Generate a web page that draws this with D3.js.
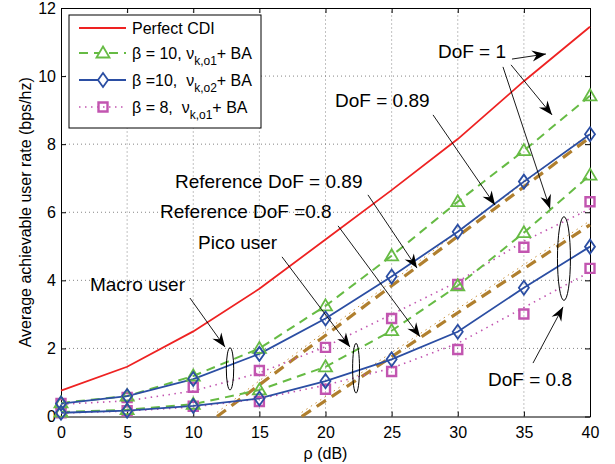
<!DOCTYPE html>
<html>
<head>
<meta charset="utf-8">
<title>Average achievable user rate</title>
<script src="https://cdn.jsdelivr.net/npm/d3@7"></script>
<style>
  body { margin: 0; background: #fff; }
  svg { display: block; font-family: "Liberation Sans", Arial, sans-serif; }
</style>
</head>
<body>
<div id="chart"></div>
<script>
// data
const rho = [0, 5, 10, 15, 20, 25, 30, 35, 40];
const xTicks = [0, 5, 10, 15, 20, 25, 30, 35, 40];
const yTicks = [0, 2, 4, 6, 8, 10, 12];

const perfectCDI = [0.76, 1.46, 2.5, 3.75, 5.2, 6.65, 8.15, 9.85, 11.45];

// macro user (upper group)
const macroB10o1 = [0.4, 0.6, 1.19, 2.0, 3.25, 4.72, 6.31, 7.81, 9.42];
const macroB10o2 = [0.38, 0.6, 1.1, 1.84, 2.88, 4.11, 5.43, 6.9, 8.29];
const macroB8Pts = [0.38, 0.56, 0.86, 1.35, 2.03, 2.88, 3.88, 4.97, 6.31];
const macroB8Line = [0.36, 0.46, 0.75, 1.28, 2.05, 3.0, 3.96, 5.15, 6.1];

// pico user (lower group)
const picoB10o1 = [0.13, 0.2, 0.36, 0.78, 1.46, 2.52, 3.84, 5.4, 7.09];
const picoB10o2 = [0.11, 0.17, 0.31, 0.53, 1.04, 1.68, 2.49, 3.78, 4.99];
const picoB8Pts = [0.11, 0.17, 0.3, 0.44, 0.8, 1.32, 1.97, 3.01, 4.35];
const picoB8Line = [0.1, 0.16, 0.28, 0.52, 0.92, 1.42, 2.15, 3.2, 4.25];

// reference DoF lines (end points)
const ref089X = [11.8, 40], ref089Y = [0, 8.2];
const ref08X = [18.2, 40], ref08Y = [0, 5.63];

const width = 615, height = 464;
const margin = {top: 8, right: 25, bottom: 47.5, left: 61};

const colRed = "#ee2222", colGreen = "#66bb44", colBlue = "#2b4ea3",
      colPink = "#c255b0", colBrown = "#b07f2e";

const svg = d3.select("#chart").append("svg")
  .attr("width", width).attr("height", height);
svg.append("rect").attr("width", width).attr("height", height).attr("fill", "#fff");

const x = d3.scaleLinear().domain([0, 40]).range([margin.left, width - margin.right]);
const y = d3.scaleLinear().domain([0, 12]).range([height - margin.bottom, margin.top]);

// grid
const grid = svg.append("g").attr("stroke", "#666").attr("stroke-width", 0.8)
  .attr("stroke-dasharray", "1,3");
grid.selectAll(".gx").data(xTicks.slice(1, -1)).join("line")
  .attr("x1", d => x(d)).attr("x2", d => x(d))
  .attr("y1", y(0)).attr("y2", y(12));
grid.selectAll(".gy").data(yTicks.slice(1, -1)).join("line")
  .attr("x1", x(0)).attr("x2", x(40))
  .attr("y1", d => y(d)).attr("y2", d => y(d));

// axes, ticks inward on four sides
svg.append("g").attr("transform", `translate(0,${y(0)})`)
  .call(d3.axisBottom(x).tickValues(xTicks).tickSize(-5).tickPadding(10).tickSizeOuter(0));
svg.append("g").attr("transform", `translate(0,${y(12)})`)
  .call(d3.axisTop(x).tickValues(xTicks).tickSize(-5).tickFormat("").tickSizeOuter(0));
svg.append("g").attr("transform", `translate(${x(0)},0)`)
  .call(d3.axisLeft(y).tickValues(yTicks).tickSize(-5).tickPadding(5).tickSizeOuter(0));
svg.append("g").attr("transform", `translate(${x(40)},0)`)
  .call(d3.axisRight(y).tickValues(yTicks).tickSize(-5).tickFormat("").tickSizeOuter(0));
svg.selectAll(".tick text").attr("font-size", 16).attr("fill", "#000")
  .attr("font-family", "Liberation Sans, Arial, sans-serif");
svg.selectAll(".domain").attr("stroke", "#000").attr("stroke-width", 1);
svg.selectAll(".tick line").attr("stroke", "#000");

svg.append("text").attr("x", (x(0) + x(40)) / 2).attr("y", 459)
  .attr("text-anchor", "middle").attr("font-size", 16).text("ρ (dB)");
svg.append("text")
  .attr("transform", `translate(31,${(y(0) + y(12)) / 2}) rotate(-90)`)
  .attr("text-anchor", "middle").attr("font-size", 16)
  .text("Average achievable user rate (bps/hz)");

const line = d3.line().x(d => x(d[0])).y(d => y(d[1]));
const pairs = (xs, ys) => xs.map((v, i) => [v, ys[i]]);

function drawLine(xs, ys, color, w, dash) {
  svg.append("path").datum(pairs(xs, ys))
    .attr("d", line).attr("fill", "none")
    .attr("stroke", color).attr("stroke-width", w)
    .attr("stroke-dasharray", dash || null);
}

// reference lines (thin dotted + thick dashed)
drawLine(ref089X, ref089Y.map(v => v + 0.12), "#c8913c", 1, "1.5,4");
drawLine(ref08X, ref08Y.map(v => v + 0.12), "#c8913c", 1, "1.5,4");
drawLine(ref089X, ref089Y, colBrown, 3.2, "11,7");
drawLine(ref08X, ref08Y, colBrown, 3.2, "11,7");

drawLine(rho, macroB8Line, colPink, 1.6, "1.5,4.5");
drawLine(rho, picoB8Line, colPink, 1.6, "1.5,4.5");
drawLine(rho, macroB10o1, colGreen, 2, "9,6");
drawLine(rho, picoB10o1, colGreen, 2, "9,6");
drawLine(rho, macroB10o2, colBlue, 1.8);
drawLine(rho, picoB10o2, colBlue, 1.8);
drawLine(rho, perfectCDI, colRed, 1.8);

// markers
const shapes = {
  tri: "M0,-6.5L6.5,4.5L-6.5,4.5Z",
  dia: "M0,-7L5,0L0,7L-5,0Z",
  sq: "M-4.5,-4.5H4.5V4.5H-4.5Z"
};
function drawMarkers(ys, shape, color, w) {
  svg.append("g").selectAll("path").data(pairs(rho, ys)).join("path")
    .attr("transform", d => `translate(${x(d[0])},${y(d[1])})`)
    .attr("d", shapes[shape]).attr("fill", "none")
    .attr("stroke", color).attr("stroke-width", w);
}
drawMarkers(macroB8Pts, "sq", colPink, 2.4);
drawMarkers(picoB8Pts, "sq", colPink, 2.4);
drawMarkers(macroB10o1, "tri", colGreen, 1.8);
drawMarkers(picoB10o1, "tri", colGreen, 1.8);
drawMarkers(macroB10o2, "dia", colBlue, 1.8);
drawMarkers(picoB10o2, "dia", colBlue, 1.8);

// annotations (data units)
const labels = [
  {t: "DoF = 1", x: 28.5, y: 10.53},
  {t: "DoF = 0.89", x: 20.72, y: 9.09},
  {t: "Reference DoF = 0.89", x: 8.62, y: 6.71},
  {t: "Reference DoF =0.8", x: 7.49, y: 5.83},
  {t: "Pico user", x: 10.36, y: 4.92},
  {t: "Macro user", x: 2.19, y: 3.69},
  {t: "DoF = 0.8", x: 32.29, y: 0.9}
];
const arrows = [
  [34.1, 10.5, 36.67, 10.65],
  [34.03, 10.33, 37.13, 8.86],
  [33.42, 10.27, 36.98, 6.1],
  [28.13, 8.86, 32.82, 6.21],
  [23.21, 6.51, 26.92, 4.36],
  [20.95, 5.6, 27.15, 2.34],
  [16.71, 4.69, 21.85, 2.04],
  [9.75, 3.48, 12.4, 2.04],
  [35.69, 1.57, 37.96, 3.22]
];
const ellipses = [
  {cx: 22.31, cy: 1.42, rx: 0.26, ry: 0.73},
  {cx: 12.78, cy: 1.40, rx: 0.28, ry: 0.62},
  {cx: 38.03, cy: 4.64, rx: 0.49, ry: 1.23}
];

const ann = svg.append("g");
ann.selectAll("text").data(labels).join("text")
  .attr("x", d => x(d.x)).attr("y", d => y(d.y))
  .attr("font-size", 19).text(d => d.t);

arrows.forEach(a => {
  const x1 = x(a[0]), y1 = y(a[1]), x2 = x(a[2]), y2 = y(a[3]);
  const ang = Math.atan2(y2 - y1, x2 - x1) * 180 / Math.PI;
  ann.append("line").attr("x1", x1).attr("y1", y1).attr("x2", x2).attr("y2", y2)
    .attr("stroke", "#000").attr("stroke-width", 0.9);
  ann.append("path")
    .attr("transform", `translate(${x2},${y2}) rotate(${ang})`)
    .attr("d", "M0,0L-14,-5.5L-9.5,0L-14,5.5Z").attr("fill", "#000");
});

ann.selectAll("ellipse").data(ellipses).join("ellipse")
  .attr("cx", d => x(d.cx)).attr("cy", d => y(d.cy))
  .attr("rx", d => x(d.rx) - x(0)).attr("ry", d => y(0) - y(d.ry))
  .attr("fill", "none").attr("stroke", "#000").attr("stroke-width", 1);

// legend
const lg = svg.append("g");
lg.append("rect").attr("x", 69).attr("y", 15).attr("width", 192).attr("height", 113)
  .attr("fill", "#fff").attr("stroke", "#000").attr("stroke-width", 1);

const legendRows = [
  {color: colRed, dash: null, w: 1.8, shape: null, text: "Perfect CDI"},
  {color: colGreen, dash: "9,6", w: 2, shape: "tri", text: "β = 10, ν", sub: "k,o1", tail: "+ BA"},
  {color: colBlue, dash: null, w: 1.8, shape: "dia", text: "β =10,  ν", sub: "k,o2", tail: "+ BA"},
  {color: colPink, dash: "1.5,4.5", w: 1.6, shape: "sq", text: "β = 8,  ν", sub: "k,o1", tail: "+ BA"}
];
const rowY = [28, 53, 80, 107];

legendRows.forEach((r, i) => {
  const yy = rowY[i];
  lg.append("line").attr("x1", 79).attr("x2", 126).attr("y1", yy).attr("y2", yy)
    .attr("stroke", r.color).attr("stroke-width", r.w)
    .attr("stroke-dasharray", r.dash);
  if (r.shape) {
    lg.append("path").attr("transform", `translate(103,${yy})`)
      .attr("d", shapes[r.shape]).attr("fill", r.shape === "sq" ? "none" : "#fff")
      .attr("stroke", r.color)
      .attr("stroke-width", r.shape === "sq" ? 2.4 : 1.8);
  }
  const t = lg.append("text").attr("x", 132).attr("y", yy + 6)
    .attr("font-size", 16).attr("xml:space", "preserve")
    .style("white-space", "pre");
  t.append("tspan").text(r.text);
  if (r.sub) {
    t.append("tspan").attr("dy", 6).attr("font-size", 12).text(r.sub);
    t.append("tspan").attr("dy", -6).text(r.tail);
  }
});
</script>
</body>
</html>
